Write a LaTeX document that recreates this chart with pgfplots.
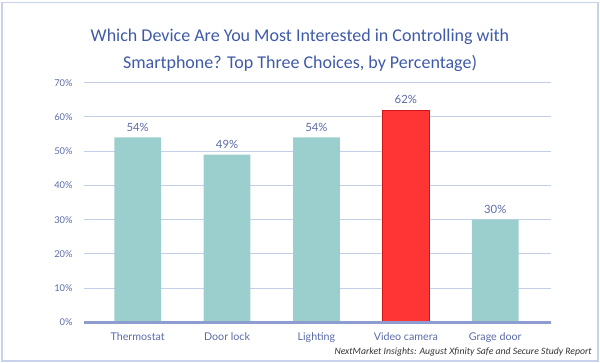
\documentclass[border=0pt]{standalone}
\usepackage{pgfplots}
\pgfplotsset{compat=1.18}
\usepackage{fontspec}
\setmainfont{Lato}
\newfontfamily\titlefont{Carlito}
\definecolor{titleblue}{HTML}{3F5AA8}
\definecolor{labelblue}{HTML}{5A6AA8}
\definecolor{gridblue}{HTML}{C3CFE8}
\definecolor{axisblue}{HTML}{8E9DD0}
\definecolor{teal}{HTML}{9BCFCD}
\definecolor{redbar}{HTML}{FF3535}
\definecolor{frameblue}{HTML}{C6D3EA}
\begin{document}
\begin{tikzpicture}
\useasboundingbox (0,0) rectangle (450pt,272.25pt);
\draw[frameblue, line width=1pt] (1.5pt,1.5pt) rectangle (448.5pt,270.5pt);
\node[titleblue, align=center, font=\titlefont\fontsize{13.5}{20}\selectfont] at (225pt,234.5pt)
  {Which Device Are You Most Interested in Controlling with\\Smartphone? Top Three Choices, by Percentage)};
\node[anchor=east, inner sep=0pt, text=black!80, font=\titlefont\itshape\fontsize{7.3}{9}\selectfont] at (444pt,8.5pt)
  {NextMarket Insights: August Xfinity Safe and Secure Study Report};
\begin{axis}[
  at={(63pt,30.4pt)}, anchor=south west,
  scale only axis, width=350pt, height=179.85pt,
  ymin=0, ymax=70, xmin=-0.6, xmax=4.62,
  ytick={0,10,...,70},
  yticklabel={\pgfmathprintnumber{\tick}\%},
  /pgf/number format/assume math mode=true,
  xtick={0,1,2,3,4},
  xticklabels={Thermostat,Door lock,Lighting,Video camera,Grage door},
  ymajorgrids, grid style={gridblue, line width=0.8pt},
  axis line style={draw=none},
  major tick length=0pt,
  tick label style={labelblue},
  yticklabel style={font=\fontsize{7}{8}\selectfont, xshift=-5pt},
  xticklabel style={font=\fontsize{8}{9}\selectfont, yshift=-4pt},
  ybar, bar width=0.523,
  nodes near coords={\pgfmathprintnumber{\pgfplotspointmeta}\%},
  nodes near coords style={labelblue, font=\fontsize{8.5}{9}\selectfont, /pgf/number format/assume math mode=true, yshift=1pt},
  clip=false,
]
\addplot[bar shift=0pt, fill=teal, draw=none] coordinates {(0,54) (1,49) (2,54) (4,30)};
\addplot[bar shift=0pt, fill=redbar, draw=red!70!black!60!redbar] coordinates {(3,62)};
\draw[axisblue, line width=2.5pt] (rel axis cs:0,0) -- (rel axis cs:1,0);
\end{axis}
\end{tikzpicture}
\end{document}
